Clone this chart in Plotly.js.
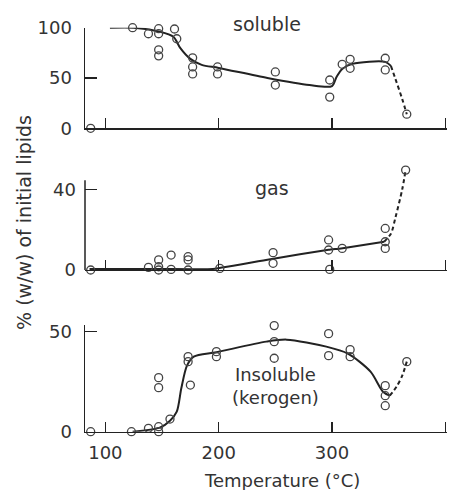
<!DOCTYPE html>
<html>
<head>
<meta charset="utf-8">
<script src="https://cdn.plot.ly/plotly-3.0.1.min.js"></script>
<style>html,body{margin:0;padding:0;background:#fff}#chart{width:462px;height:490px}</style>
</head>
<body>
<div id="chart"></div>
<script>
// ---- data (temperature in °C, % w/w of initial lipids) ----
const solubleT = [87, 124, 138, 147, 147, 147, 147, 161, 163, 177, 177, 177, 199, 199, 250, 250, 298, 298, 309, 316, 316, 347, 347, 366];
const solubleV = [0, 100, 94, 99, 94, 78, 72, 98.7, 89, 70, 61, 54, 61, 54, 56, 43, 48, 31, 63.6, 68.6, 59.6, 69.6, 58, 14];
const solubleFitT = [104, 125, 148, 160, 166, 175, 185, 200, 243, 280, 300, 304, 309, 318, 347, 352];
const solubleFitV = [100, 100, 96, 91, 80, 69, 63, 60, 50, 43, 42, 51, 59, 64, 66, 62];
const solubleDashT = [352, 356, 362, 366];
const solubleDashV = [62, 49, 29, 14];

const gasT = [87, 123, 138, 147, 147, 147, 158, 158, 173, 173, 173, 201, 201, 248, 248, 297, 297, 298, 309, 316, 347, 347, 347, 365];
const gasV = [0, -0.5, 1.3, 5, 1.6, 0, 7.4, 0.3, 6.6, 5, 0, 0.8, -0.5, 8.6, 3.3, 14.9, 9.9, 0.3, 10.7, -0.5, 20.6, 14, 10.7, 49.5];
const gasFitT = [86, 150, 195, 247, 297, 308, 346];
const gasFitV = [0.5, 0.5, 0.5, 5.5, 10, 10.7, 14];
const gasDashT = [346, 352, 356, 362, 365];
const gasDashV = [14, 18, 26, 40, 49.5];

const insolT = [87, 123, 138, 147, 147, 147, 147, 157, 173, 173, 175, 198, 198, 249, 249, 249, 297, 297, 316, 316, 347, 347, 347, 366];
const insolV = [0, 0, 1.7, 2.5, 0, 27, 22, 6.3, 37.5, 35, 23.3, 40, 37.5, 53, 45, 36.7, 49, 38, 41, 37.5, 23, 18, 13, 35];
const insolFitT = [124, 148, 157, 163, 167, 172, 178, 198, 242, 260, 295, 314, 334, 345, 351];
const insolFitV = [0, 2, 5.5, 10, 21.7, 33, 37.5, 39.7, 45, 46, 42.5, 39, 30, 20, 18];
const insolDashT = [351, 357, 362, 366];
const insolDashV = [18, 22.5, 28, 35];

const xTicks = [100, 200, 300, 400];
const xTickText = ['100', '200', '300', '400'];
const yTicksTop = [0, 50, 100];
const yTicksMid = [0, 40];
const yTicksBot = [0, 50];

// ---- styling ----
const ink = '#222';
const txt = '#333';
const mk = {symbol: 'circle-open', size: 8, color: '#444', line: {width: 1.3, color: '#444'}};

function pts(x, y, xa, ya) {
  return {x: x, y: y, xaxis: xa, yaxis: ya, type: 'scatter', mode: 'markers', marker: mk, cliponaxis: false, hoverinfo: 'skip'};
}
function fit(x, y, xa, ya, dash, sm) {
  return {x: x, y: y, xaxis: xa, yaxis: ya, type: 'scatter', mode: 'lines', cliponaxis: false, hoverinfo: 'skip',
          line: {color: ink, width: 2, shape: 'spline', smoothing: sm || 0.8, dash: dash || 'solid'}};
}

const data = [
  fit(solubleFitT, solubleFitV, 'x', 'y'),
  fit(solubleDashT, solubleDashV, 'x', 'y', '4px,3px'),
  pts(solubleT, solubleV, 'x', 'y'),
  fit(gasFitT, gasFitV, 'x2', 'y2', 'solid', 0.4),
  fit(gasDashT, gasDashV, 'x2', 'y2', '4px,3px'),
  pts(gasT, gasV, 'x2', 'y2'),
  fit(insolFitT, insolFitV, 'x3', 'y3'),
  fit(insolDashT, insolDashV, 'x3', 'y3', '4px,3px'),
  pts(insolT, insolV, 'x3', 'y3')
];

const font = {family: 'DejaVu Sans, sans-serif', size: 18, color: txt};
const xRange = [82, 401.5];
function xa(anchor, labels) {
  return {anchor: anchor, range: xRange, showgrid: false, zeroline: false, showline: true, linecolor: ink, linewidth: 1.5,
          ticks: 'inside', ticklen: 10, tickwidth: 1.5, tickcolor: ink, tickvals: xTicks, ticktext: xTickText,
          showticklabels: labels, tickfont: font, ticklabelstandoff: 4};
}
function ya(dom, rng, tv, line) {
  return {domain: dom, range: rng, showgrid: false, zeroline: false, showline: line, linecolor: ink, linewidth: 1.5,
          ticks: 'inside', ticklen: 12, tickwidth: 1.5, tickcolor: ink, tickvals: tv, tickfont: font, ticklabelstandoff: 8};
}

const annFont = {family: font.family, size: 19, color: txt};
const layout = {
  width: 462, height: 490,
  margin: {l: 85, r: 15, t: 0, b: 0},
  paper_bgcolor: '#fff', plot_bgcolor: '#fff',
  showlegend: false,
  font: font,
  xaxis: xa('y', false),
  xaxis2: xa('y2', false),
  xaxis3: xa('y3', true),
  yaxis: ya([0.7382, 0.9435], [0, 100], yTicksTop, true),
  yaxis2: ya([0.4490, 0.6590], [0, 51], yTicksMid, false),
  yaxis3: ya([0.1190, 0.3367], [0, 53.3], yTicksBot, true),
  shapes: [
    {type: 'line', xref: 'x2 domain', yref: 'y2', x0: 0, x1: 0, y0: 0, y1: 44.5, line: {color: ink, width: 1.5}}
  ],
  annotations: [
    {text: 'soluble', xref: 'paper', yref: 'paper', x: 0.503, y: 0.951, showarrow: false, font: annFont, xanchor: 'center', yanchor: 'middle'},
    {text: 'gas', xref: 'paper', yref: 'paper', x: 0.516, y: 0.6163, showarrow: false, font: annFont, xanchor: 'center', yanchor: 'middle'},
    {text: 'Insoluble<br>(kerogen)', xref: 'paper', yref: 'paper', x: 0.525, y: 0.2122, showarrow: false, font: {family: font.family, size: 18, color: txt}, xanchor: 'center', yanchor: 'middle'},
    {text: 'Temperature (°C)', xref: 'paper', yref: 'paper', x: 0.544, y: 0.0204, showarrow: false, font: {family: font.family, size: 18, color: txt}, xanchor: 'center', yanchor: 'middle'},
    {text: '% (w/w) of initial lipids', xref: 'paper', yref: 'paper', x: -0.1685, y: 0.545, showarrow: false, textangle: -90, font: annFont, xanchor: 'center', yanchor: 'middle'}
  ]
};

Plotly.newPlot('chart', data, layout, {staticPlot: true, displayModeBar: false});
</script>
</body>
</html>
